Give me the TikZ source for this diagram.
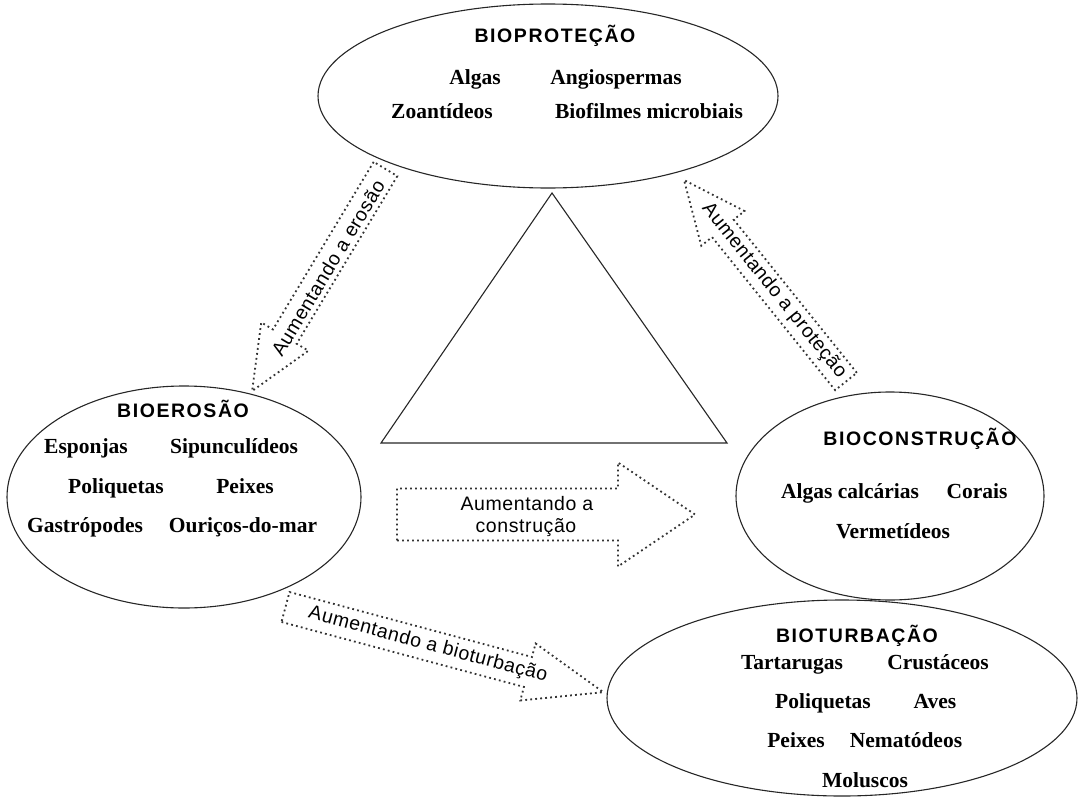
\documentclass[tikz,border=0pt]{standalone}
\usepackage{fontspec}
\setmainfont{Liberation Serif}
\newfontfamily\titlefont[LetterSpace=8]{Liberation Sans}
\newfontfamily\lblfont[LetterSpace=3]{Liberation Sans}
\usetikzlibrary{shapes.geometric}
\newcommand{\bArrow}[4]{% length, head length, shaft half width, head half width
  \draw[arrowline] (0pt,-#3pt) -- (#1pt-#2pt,-#3pt) -- (#1pt-#2pt,-#4pt) -- (#1pt,0pt)
    -- (#1pt-#2pt,#4pt) -- (#1pt-#2pt,#3pt) -- (0pt,#3pt) -- cycle;}
\begin{document}
\begin{tikzpicture}[x=1pt,y=-1pt,
  oval/.style={draw=black!85, line width=1.1pt, ellipse, inner sep=0pt},
  ttl/.style={anchor=base, inner sep=0pt, font=\titlefont\bfseries\fontsize{19.5}{23}\selectfont},
  itm/.style={anchor=base, inner sep=0pt, font=\bfseries\fontsize{21.5}{24}\selectfont},
  lbl/.style={inner sep=0pt, font=\lblfont\fontsize{19.5}{22}\selectfont},
  arrowline/.style={line width=1.8pt, dash pattern=on 1.8pt off 3.2pt, draw=black!80, line join=miter},
  triline/.style={line width=1.1pt, draw=black!85}
]
\useasboundingbox (0,0) rectangle (1084,798);

% ellipses
\node[oval, minimum width=460pt, minimum height=184pt] (prot) at (548,96) {};
\node[oval, minimum width=354pt, minimum height=222pt] (eros) at (184,497) {};
\node[oval, minimum width=308pt, minimum height=208pt] (cons) at (890,496) {};
\node[oval, minimum width=470pt, minimum height=196pt] (turb) at (842,698) {};

% triangle
\coordinate (tA) at (552,193);
\coordinate (tB) at (381,443);
\coordinate (tC) at (727,443);
\draw[triline] (tA) -- (tB) -- (tC) -- cycle;

% block arrows
\begin{scope}[shift={(385.5,169)}, rotate=239]
  \bArrow{259}{63.5}{13.8}{27.5}
\end{scope}
\begin{scope}[shift={(846,381.5)}, rotate=128.8]
  \bArrow{258.5}{62}{13.9}{27.7}
\end{scope}
\begin{scope}[shift={(285.5,607)}, rotate=-15]
  \bArrow{329}{78}{15.5}{29.5}
\end{scope}
\begin{scope}[shift={(397,514.5)}]
  \bArrow{298}{77}{26}{52}
\end{scope}

% arrow labels
\node[lbl, rotate=59] (lero) at (328,268) {Aumentando a erosão};
\node[lbl, rotate=-51.2] (lpro) at (774,291) {Aumentando a proteção};
\node[lbl, rotate=-15] (ltur) at (428,645) {Aumentando a bioturbação};
\node[lbl, anchor=base] (lconA) at (527,510) {Aumentando a};
\node[lbl, anchor=base] (lconB) at (526,532) {construção};

% Bioproteção
\node[ttl] (tprot) at (555,42) {BIOPROTEÇÃO};
\node[itm] (p1) at (475,84) {Algas};
\node[itm] (p2) at (616,84) {Angiospermas};
\node[itm] (p3) at (442,118) {Zoantídeos};
\node[itm] (p4) at (649,118) {Biofilmes microbiais};

% Bioerosão
\node[ttl] (teros) at (183,417) {BIOEROSÃO};
\node[itm] (e1) at (86,453) {Esponjas};
\node[itm] (e2) at (234,453) {Sipunculídeos};
\node[itm] (e3) at (116,493) {Poliquetas};
\node[itm] (e4) at (245,493) {Peixes};
\node[itm] (e5) at (85,532) {Gastrópodes};
\node[itm] (e6) at (243,532) {Ouriços-do-mar};

% Bioconstrução
\node[ttl] (tcons) at (920,445) {BIOCONSTRUÇÃO};
\node[itm] (c1) at (850,498) {Algas calcárias};
\node[itm] (c2) at (977,498) {Corais};
\node[itm] (c3) at (893,538) {Vermetídeos};

% Bioturbação
\node[ttl] (tturb) at (857,642) {BIOTURBAÇÃO};
\node[itm] (b1) at (792,669) {Tartarugas};
\node[itm] (b2) at (938,669) {Crustáceos};
\node[itm] (b3) at (823,708) {Poliquetas};
\node[itm] (b4) at (935,708) {Aves};
\node[itm] (b5) at (796,747) {Peixes};
\node[itm] (b6) at (906,747) {Nematódeos};
\node[itm] (b7) at (865,787) {Moluscos};
\end{tikzpicture}
\end{document}
